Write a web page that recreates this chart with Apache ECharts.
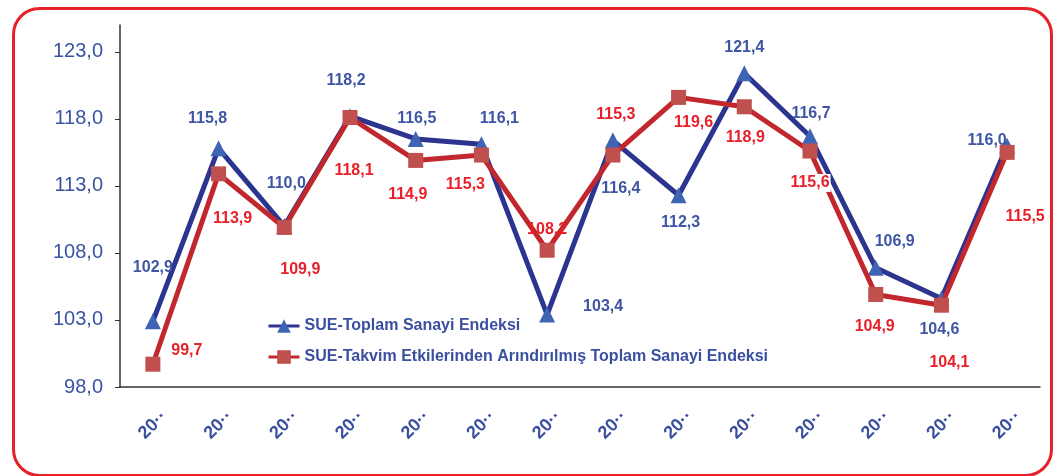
<!DOCTYPE html>
<html>
<head>
<meta charset="utf-8">
<script src="https://cdn.jsdelivr.net/npm/echarts@6/dist/echarts.min.js"></script>
<style>
html,body{margin:0;padding:0;background:#fff;}
#c{width:1054px;height:476px;}
</style>
</head>
<body>
<div id="c"></div>
<script>
var categories = ['20··','20··','20··','20··','20··','20··','20··','20··','20··','20··','20··','20··','20··','20··'];
var seriesNames = ['SUE-Toplam Sanayi Endeksi', 'SUE-Takvim Etkilerinden Arındırılmış Toplam Sanayi Endeksi'];
var toplam = [102.9, 115.8, 110.0, 118.2, 116.5, 116.1, 103.4, 116.4, 112.3, 121.4, 116.7, 106.9, 104.6, 116.0];
var takvim = [99.7, 113.9, 109.9, 118.1, 114.9, 115.3, 108.2, 115.3, 119.6, 118.9, 115.6, 104.9, 104.1, 115.5];
var yTicks = [98, 103, 108, 113, 118, 123];

// label placement (styling only)
var blueOffsets = [[0,-54],[-11,-30],[2,-43],[-4,-36],[1,-20],[18,-26],[56,-8],[8,48],[2,27],[0,-26],[1,-23],[19,-26],[-2,31],[-20,-5]];
var redOffsets = [[34,-14],[14,45],[16,42],[4,53],[-8,34],[-16,30],[0,-21],[3,-40],[15,25],[1,31],[0,32],[-1,32],[8,57],[18,64]];

function fmt(v){ return v.toFixed(1).replace('.', ','); }
function build(vals, offs, bgIdx){
  return vals.map(function(v,i){
    var lab = {offset: offs[i]};
    if (bgIdx.indexOf(i) >= 0) { lab.backgroundColor = '#fff'; lab.padding = [1,1]; }
    return {value: v, label: lab};
  });
}

var chart = echarts.init(document.getElementById('c'));
var fontFam = '"Liberation Sans", Arial, sans-serif';
chart.setOption({
  animation: false,
  backgroundColor: '#fff',
  grid: {left: 120, right: 14, top: 25, bottom: 89, containLabel: false},
  graphic: [{
    type: 'rect', left: 11, top: 6, z: 100, silent: true,
    shape: {width: 1038, height: 467, r: 26},
    style: {fill: 'none', stroke: '#e8202a', lineWidth: 3}
  }],
  legend: {
    orient: 'vertical', left: 262, top: 313, itemGap: 15,
    itemWidth: 31, itemHeight: 17,
    lineStyle: {width: 3},
    textStyle: {color: '#3a4fa0', fontSize: 16, fontWeight: 'bold', fontFamily: fontFam},
    data: seriesNames
  },
  xAxis: {
    type: 'category', data: categories, boundaryGap: true,
    axisLine: {lineStyle: {color: '#333', width: 1.5}},
    axisTick: {length: 6, lineStyle: {color: '#333'}},
    axisLabel: {rotate: 45, margin: 38, align: 'center', verticalAlign: 'middle',
      color: '#3a4fa0', fontSize: 18, fontWeight: 'bold', fontFamily: fontFam},
    splitLine: {show: false}
  },
  yAxis: {
    type: 'value', min: 98, max: 125, interval: 5,
    axisLine: {show: true, lineStyle: {color: '#333', width: 1.5}},
    axisTick: {show: true, length: 5, customValues: yTicks, lineStyle: {color: '#333'}},
    axisLabel: {customValues: yTicks, margin: 17, color: '#3a54a4', fontSize: 20, fontFamily: fontFam,
      formatter: function(v){ return fmt(v); }},
    splitLine: {show: false}
  },
  series: [{
    name: seriesNames[0], type: 'line',
    data: build(toplam, blueOffsets, []),
    symbol: 'triangle', symbolSize: 16,
    lineStyle: {color: '#2b3590', width: 5},
    itemStyle: {color: '#4064b4'},
    label: {show: true, position: 'inside', color: '#3f55a5', fontSize: 16, fontWeight: 'bold', fontFamily: fontFam,
      formatter: function(p){ return fmt(p.value); }},
    z: 2
  }, {
    name: seriesNames[1], type: 'line',
    data: build(takvim, redOffsets, [10]),
    symbol: 'rect', symbolSize: 15,
    lineStyle: {color: '#c1272d', width: 5},
    itemStyle: {color: '#c0504d'},
    label: {show: true, position: 'inside', color: '#e8202a', fontSize: 16, fontWeight: 'bold', fontFamily: fontFam,
      formatter: function(p){ return fmt(p.value); }},
    z: 3
  }]
});
</script>
</body>
</html>
